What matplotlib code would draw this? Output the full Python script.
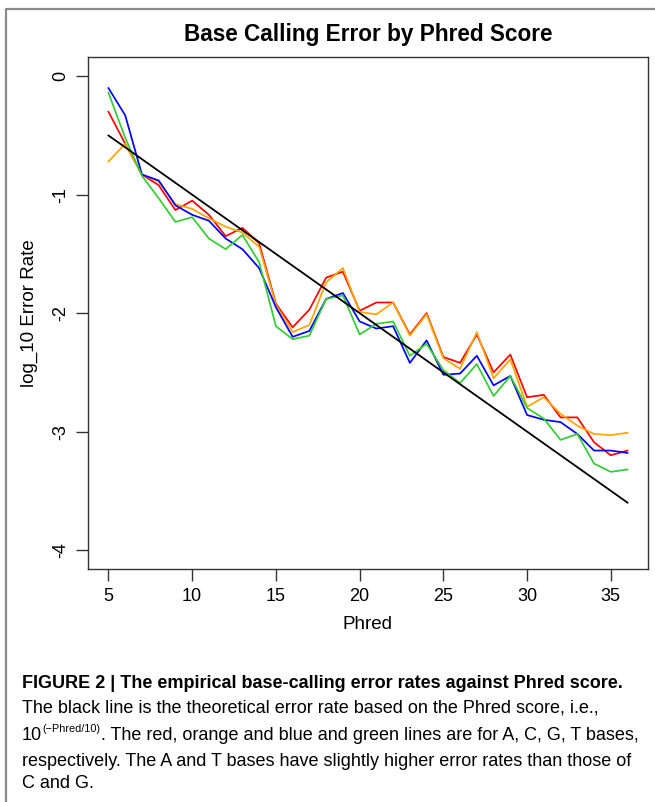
import matplotlib
matplotlib.use("Agg")
import matplotlib.pyplot as plt
from matplotlib import font_manager
from matplotlib.lines import Line2D

# ---------------- data ----------------
phred = list(range(5, 37))
err_A = [-0.30, -0.57, -0.83, -0.92, -1.13, -1.05, -1.17, -1.35, -1.28, -1.41,
         -1.92, -2.12, -1.97, -1.70, -1.65, -1.98, -1.91, -1.91, -2.18, -2.00,
         -2.37, -2.42, -2.18, -2.50, -2.35, -2.71, -2.69, -2.88, -2.88, -3.09,
         -3.20, -3.16]
err_C = [-0.72, -0.57, -0.83, -0.89, -1.08, -1.12, -1.20, -1.27, -1.32, -1.44,
         -1.93, -2.16, -2.10, -1.74, -1.62, -1.99, -2.01, -1.91, -2.19, -2.01,
         -2.38, -2.47, -2.16, -2.55, -2.39, -2.79, -2.71, -2.85, -2.95, -3.02,
         -3.03, -3.01]
err_G = [-0.10, -0.33, -0.83, -0.88, -1.09, -1.17, -1.22, -1.37, -1.46, -1.62,
         -1.95, -2.20, -2.15, -1.88, -1.83, -2.07, -2.13, -2.11, -2.42, -2.23,
         -2.52, -2.51, -2.36, -2.61, -2.53, -2.86, -2.90, -2.92, -3.02, -3.16,
         -3.16, -3.18]
err_T = [-0.14, -0.52, -0.84, -1.03, -1.23, -1.19, -1.37, -1.46, -1.34, -1.57,
         -2.11, -2.22, -2.19, -1.88, -1.85, -2.18, -2.09, -2.07, -2.36, -2.26,
         -2.48, -2.59, -2.43, -2.70, -2.53, -2.80, -2.89, -3.07, -3.02, -3.27,
         -3.34, -3.32]
theory = [-p / 10 for p in phred]
x_ticks = [5, 10, 15, 20, 25, 30, 35]
y_ticks = [0, -1, -2, -3, -4]

# ---------------- fonts ----------------
avail = {f.name for f in font_manager.fontManager.ttflist}
base_font = "Liberation Sans" if "Liberation Sans" in avail else "DejaVu Sans"
cap_font = "Liberation Sans Narrow" if "Liberation Sans Narrow" in avail else base_font
plt.rcParams["font.family"] = [base_font, "DejaVu Sans"]

W, H = 655, 802
fig = plt.figure(figsize=(W / 100, H / 100), dpi=100)

def fx(x):
    return x / W

def fy(y):
    return 1 - y / H

# axes placement (pixels)
L, R, T, B = 87.7, 648.3, 57.3, 569.0
ax = fig.add_axes([fx(L), fy(B), fx(R - L), (B - T) / H])

ax.plot(phred, err_A, color="#FF0000", lw=1.25)
ax.plot(phred, err_C, color="#FFA500", lw=1.25)
ax.plot(phred, err_G, color="#0000FF", lw=1.25)
ax.plot(phred, err_T, color="#33CC33", lw=1.25)
ax.plot(phred, theory, color="#000000", lw=1.3)

ax.set_xlim(3.76, 37.24)
ax.set_ylim(-4.16, 0.16)
ax.set_xticks(x_ticks)
ax.set_yticks(y_ticks)
ax.set_xticklabels([str(v) for v in x_ticks], fontsize=13)
ax.set_yticklabels([str(v) for v in y_ticks], fontsize=13, rotation=90, va="center")
ax.tick_params(direction="out", length=8.4, width=1.0, color="#333333", pad=5)
for s in ax.spines.values():
    s.set_color("#333333")
    s.set_linewidth(1.0)

ax.set_xlabel("Phred", fontsize=13.5, labelpad=8)
ax.set_ylabel("log_10 Error Rate", fontsize=13.5, labelpad=10)
fig.text(fx((L + R) / 2), fy(35), "Base Calling Error by Phred Score",
         fontsize=16.3, fontweight="bold", ha="center", va="center")

# outer frame (top and left edges visible)
fig.add_artist(Line2D([fx(6), fx(6), fx(W)], [fy(H), fy(9), fy(9)],
                      transform=fig.transFigure, color="#8a8a8a", lw=1.6))

# ---------------- caption ----------------
cx = fx(22)
cap_size = 13.0
fig.text(cx, fy(684), "FIGURE 2 | The empirical base-calling error rates against Phred score.",
         fontsize=cap_size, fontweight="bold", family=cap_font, va="center", ha="left")
fig.text(cx, fy(708), "The black line is the theoretical error rate based on the Phred score, i.e.,",
         fontsize=cap_size, family=cap_font, va="center", ha="left")

fig.canvas.draw()
renderer = fig.canvas.get_renderer()
t10 = fig.text(cx, fy(735), "10", fontsize=cap_size, family=cap_font, va="center", ha="left")
bb = t10.get_window_extent(renderer)
sup = fig.text(bb.x1 / fig.bbox.width + 0.001, fy(729), "(\u2212Phred/10)",
               fontsize=cap_size * 0.6, family=cap_font, va="center", ha="left")
bb2 = sup.get_window_extent(renderer)
fig.text(bb2.x1 / fig.bbox.width, fy(735),
         ". The red, orange and blue and green lines are for A, C, G, T bases,",
         fontsize=cap_size, family=cap_font, va="center", ha="left")
fig.text(cx, fy(761), "respectively. The A and T bases have slightly higher error rates than those of",
         fontsize=cap_size, family=cap_font, va="center", ha="left")
fig.text(cx, fy(784), "C and G.", fontsize=cap_size, family=cap_font, va="center", ha="left")

fig.savefig("out.png", dpi=100)
